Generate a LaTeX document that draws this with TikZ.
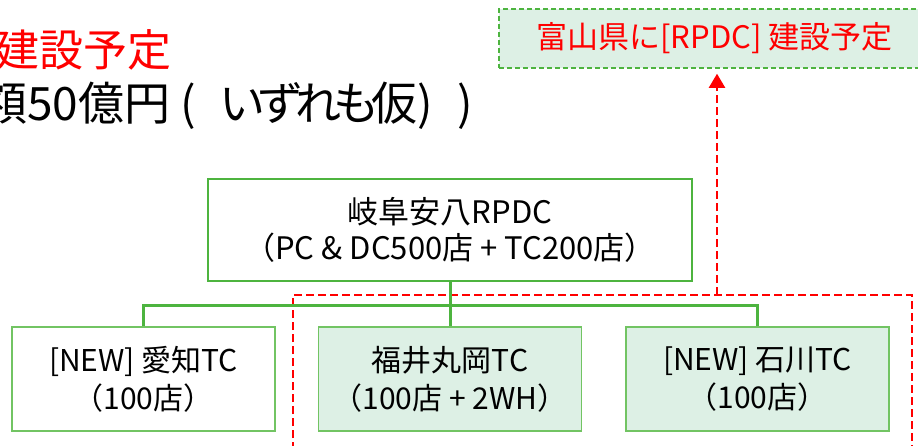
\documentclass[tikz,border=0pt]{standalone}
\usepackage{fontspec}
\setmainfont{Noto Sans CJK JP}
\usetikzlibrary{arrows.meta}
\definecolor{gborder}{HTML}{4DB43F}
\definecolor{gchild}{HTML}{72C463}
\definecolor{gfill}{HTML}{DDF0E5}
\definecolor{rred}{HTML}{FF0000}
\newcommand{\tk}{\hspace{-8pt}}
\tikzset{
  mainbox/.style={draw=gborder,line width=2pt,fill=white,minimum width=484pt,minimum height=102pt,align=center,inner sep=0pt,font=\fontsize{31}{36}\selectfont},
  childbox/.style={draw=gchild,line width=1.5pt,minimum width=263pt,minimum height=104pt,align=center,inner sep=0pt,font=\fontsize{30}{38}\selectfont},
  greenfill/.style={fill=gfill},
  gline/.style={draw=gborder,line width=3pt},
  reddash/.style={draw=rred,line width=2pt,dash pattern=on 8pt off 4pt},
  topbox/.style={draw=gborder,line width=1.5pt,dash pattern=on 5pt off 3pt,fill=gfill,minimum width=431pt,minimum height=59pt,inner sep=0pt,text=rred,font=\fontsize{31}{36}\selectfont},
  bigtext/.style={inner sep=0pt,font=\fontsize{44}{50}\selectfont,anchor=east}
}
\begin{document}
\begin{tikzpicture}[x=1pt,y=-1pt]
\useasboundingbox (0,0) rectangle (918,445);
\clip (0,0) rectangle (918,445);
% headline texts (cut at the left edge)
\node[bigtext,text=rred] (head1) at (172,50) {建設予定};
\node[bigtext,font=\fontsize{46}{50}\selectfont,anchor=west] (head2) at (-19,106) {額50億円\hspace{10pt}(\hspace{24pt}い\tk ず\tk れ\tk も\tk 仮)\hspace{24pt})};
% top right box
\node[topbox] (toyama) at (714.5,38.5) {富山県に[RPDC] 建設予定};
% main box
\node[mainbox] (main) at (450,230) {岐阜安八RPDC\\（PC \& DC500店 + TC200店）};
% children
\node[childbox] (aichi) at (143.5,379) {[NEW] 愛知TC\\（100店）};
\node[childbox,greenfill] (fukui) at (450,379) {福井丸岡TC\\（100店 + 2WH）};
\node[childbox,greenfill] (ishikawa) at (757.5,379) {[NEW] 石川TC\\（100店）};
% red dashed
\coordinate (rA) at (293,450);
\coordinate (rB) at (293,295);
\coordinate (rC) at (912,295);
\coordinate (rD) at (912,450);
\coordinate (rUp) at (717,295);
\draw[reddash] (rA) -- (rB) -- (rC) -- (rD);
\draw[reddash,-{Triangle[length=14pt,width=16pt]},shorten >=5pt] (rUp) -- (rUp |- toyama.south);
% green connectors
\coordinate (bus) at (450,305);
\draw[gline] (main.south) -- (bus) -- (fukui.north);
\draw[gline] (aichi.north) |- (bus);
\draw[gline] (ishikawa.north) |- (bus);
\end{tikzpicture}
\end{document}
